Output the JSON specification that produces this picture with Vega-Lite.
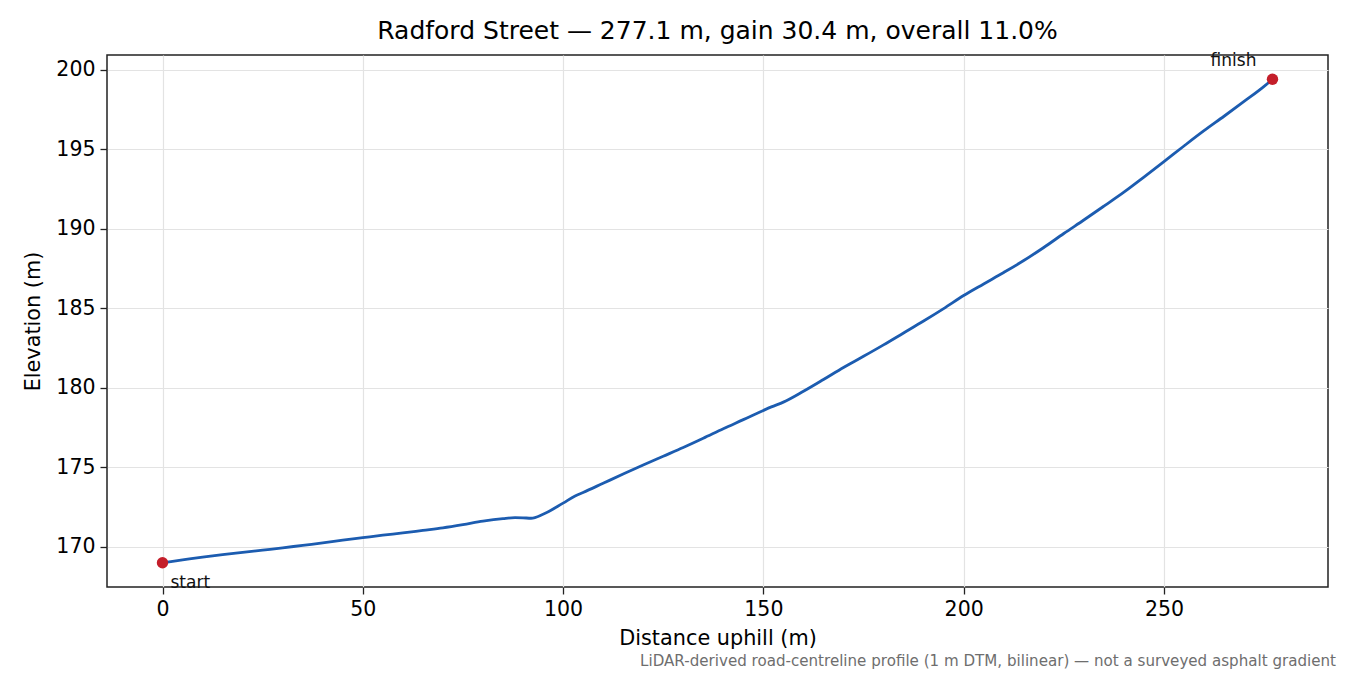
{
  "$schema": "https://vega.github.io/schema/vega-lite/v6.json",
  "width": 1221,
  "height": 532,
  "autosize": {"type": "none"},
  "padding": {"left": 107, "top": 55, "right": 22, "bottom": 88},
  "background": "white",
  "config": {
    "font": "DejaVu Sans",
    "view": {"stroke": "#222222", "strokeWidth": 1.5},
    "axis": {
      "domain": false,
      "grid": true,
      "gridColor": "#e3e3e3",
      "gridWidth": 1.2,
      "tickColor": "#222222",
      "tickSize": 7,
      "tickWidth": 1.3,
      "labelFont": "DejaVu Sans",
      "labelFontSize": 20.5,
      "labelColor": "#000000",
      "labelPadding": 5,
      "titleFont": "DejaVu Sans",
      "titleFontSize": 20.8,
      "titleFontWeight": "normal",
      "titleColor": "#000000"
    },
    "title": {"font": "DejaVu Sans", "fontSize": 25, "fontWeight": "normal", "color": "#000000", "offset": 8}
  },
  "title": "Radford Street — 277.1 m, gain 30.4 m, overall 11.0%",
  "datasets": {
    "profile": [
      {"d": 0, "elev": 169.0},
      {"d": 5, "elev": 169.18},
      {"d": 10, "elev": 169.36},
      {"d": 15, "elev": 169.52},
      {"d": 20, "elev": 169.66},
      {"d": 25, "elev": 169.8},
      {"d": 30, "elev": 169.94},
      {"d": 35, "elev": 170.1},
      {"d": 40, "elev": 170.25},
      {"d": 45, "elev": 170.42},
      {"d": 50, "elev": 170.58},
      {"d": 55, "elev": 170.74},
      {"d": 60, "elev": 170.88},
      {"d": 65, "elev": 171.04},
      {"d": 70, "elev": 171.2},
      {"d": 75, "elev": 171.4},
      {"d": 80, "elev": 171.62},
      {"d": 85, "elev": 171.78},
      {"d": 88, "elev": 171.84},
      {"d": 90, "elev": 171.83},
      {"d": 92, "elev": 171.8},
      {"d": 95, "elev": 172.05},
      {"d": 100, "elev": 172.75},
      {"d": 103, "elev": 173.2},
      {"d": 105, "elev": 173.42},
      {"d": 110, "elev": 174.0},
      {"d": 115, "elev": 174.58},
      {"d": 120, "elev": 175.15},
      {"d": 125, "elev": 175.7},
      {"d": 130, "elev": 176.25},
      {"d": 135, "elev": 176.83},
      {"d": 140, "elev": 177.43},
      {"d": 145, "elev": 178.0},
      {"d": 150, "elev": 178.58},
      {"d": 152, "elev": 178.8},
      {"d": 155, "elev": 179.1},
      {"d": 160, "elev": 179.78},
      {"d": 165, "elev": 180.52},
      {"d": 170, "elev": 181.28},
      {"d": 175, "elev": 181.98},
      {"d": 180, "elev": 182.7},
      {"d": 185, "elev": 183.45},
      {"d": 190, "elev": 184.2},
      {"d": 195, "elev": 184.98},
      {"d": 200, "elev": 185.8},
      {"d": 205, "elev": 186.53},
      {"d": 210, "elev": 187.25},
      {"d": 215, "elev": 188.0},
      {"d": 220, "elev": 188.82},
      {"d": 225, "elev": 189.7},
      {"d": 230, "elev": 190.55},
      {"d": 235, "elev": 191.42},
      {"d": 240, "elev": 192.3},
      {"d": 245, "elev": 193.25},
      {"d": 250, "elev": 194.22},
      {"d": 255, "elev": 195.2},
      {"d": 260, "elev": 196.16},
      {"d": 265, "elev": 197.07},
      {"d": 270, "elev": 198.0},
      {"d": 275, "elev": 198.95},
      {"d": 277.1, "elev": 199.4}
    ],
    "ends": [
      {"d": 0, "elev": 169.0, "label": "start", "pos": "start"},
      {"d": 277.1, "elev": 199.4, "label": "finish", "pos": "finish"}
    ],
    "note": [
      {"note": "LiDAR-derived road-centreline profile (1 m DTM, bilinear) — not a surveyed asphalt gradient"}
    ]
  },
  "layer": [
    {
      "data": {"name": "profile"},
      "mark": {"type": "line", "color": "#1c5cb0", "strokeWidth": 2.8, "interpolate": "monotone"},
      "encoding": {
        "x": {
          "field": "d",
          "type": "quantitative",
          "title": "Distance uphill (m)",
          "scale": {"domain": [-13.855, 290.955], "nice": false, "zero": false},
          "axis": {"values": [0, 50, 100, 150, 200, 250], "titlePadding": 9}
        },
        "y": {
          "field": "elev",
          "type": "quantitative",
          "title": "Elevation (m)",
          "scale": {"domain": [167.48, 200.92], "nice": false, "zero": false},
          "axis": {"values": [170, 175, 180, 185, 190, 195, 200], "titlePadding": 12}
        }
      }
    },
    {
      "data": {"name": "ends"},
      "mark": {"type": "circle", "color": "#c41e2a", "opacity": 1, "size": 130},
      "encoding": {
        "x": {"field": "d", "type": "quantitative"},
        "y": {"field": "elev", "type": "quantitative"}
      }
    },
    {
      "data": {"name": "ends"},
      "transform": [{"filter": "datum.pos == 'start'"}],
      "mark": {"type": "text", "align": "left", "baseline": "middle", "dx": 8, "dy": 20, "fontSize": 17, "color": "#111111"},
      "encoding": {
        "x": {"field": "d", "type": "quantitative"},
        "y": {"field": "elev", "type": "quantitative"},
        "text": {"field": "label"}
      }
    },
    {
      "data": {"name": "ends"},
      "transform": [{"filter": "datum.pos == 'finish'"}],
      "mark": {"type": "text", "align": "center", "baseline": "middle", "dx": -39, "dy": -18, "fontSize": 17, "color": "#111111"},
      "encoding": {
        "x": {"field": "d", "type": "quantitative"},
        "y": {"field": "elev", "type": "quantitative"},
        "text": {"field": "label"}
      }
    },
    {
      "data": {"name": "note"},
      "mark": {"type": "text", "align": "right", "baseline": "middle", "dx": 8, "dy": 74, "fontSize": 15.1, "color": "#6e6e6e"},
      "encoding": {
        "x": {"datum": 290.955},
        "y": {"datum": 167.48},
        "text": {"field": "note"}
      }
    }
  ]
}
